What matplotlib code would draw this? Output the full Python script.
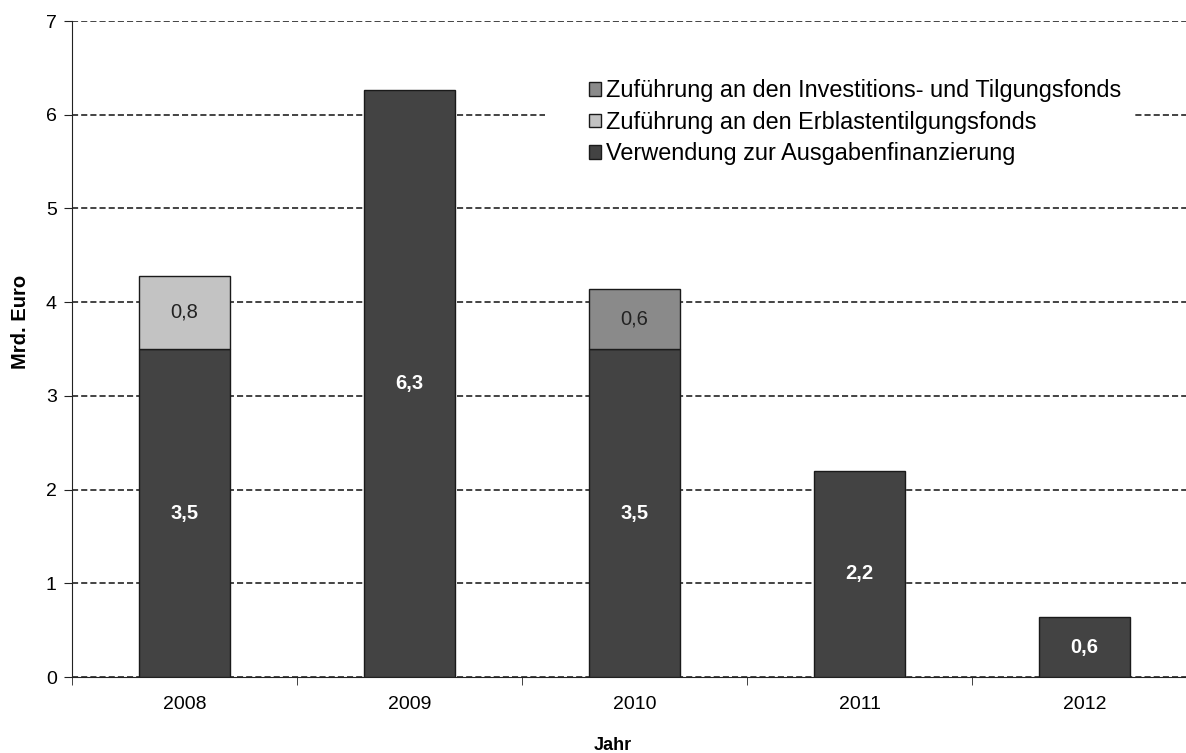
import numpy as np
import matplotlib
matplotlib.use("Agg")
import matplotlib.pyplot as plt
from matplotlib.patches import Patch, Rectangle

plt.rcParams["font.family"] = ["Liberation Sans", "DejaVu Sans"]

years = ["2008", "2009", "2010", "2011", "2012"]
ausgaben = [3.5, 6.26, 3.5, 2.2, 0.64]
erblasten = [0.78, 0, 0, 0, 0]
itf = [0, 0, 0.64, 0, 0]

c_dark = "#434343"
c_light = "#c3c3c3"
c_mid = "#8a8a8a"
edge = "#1a1a1a"


def fmt(v):
    return f"{v:.1f}".replace(".", ",")


fig = plt.figure(figsize=(11.86, 7.53), dpi=100)
# the plot area runs a little past the right edge of the picture, as in the original
ax = fig.add_axes([72 / 1186, 1 - 677 / 753, 1125 / 1186, 656 / 753])

x = np.arange(len(years))
width = 0.405

ax.bar(x, ausgaben, width, color=c_dark, edgecolor=edge, linewidth=1, zorder=3)
erb_b = ax.bar(x, erblasten, width, bottom=ausgaben, color=c_light, edgecolor=edge, linewidth=1, zorder=3)
itf_b = ax.bar(x, itf, width, bottom=ausgaben, color=c_mid, edgecolor=edge, linewidth=1, zorder=3)
for b, v in zip(erb_b, erblasten):
    if v == 0:
        b.set_visible(False)
for b, v in zip(itf_b, itf):
    if v == 0:
        b.set_visible(False)

# value labels
for i in range(len(years)):
    ax.text(x[i], ausgaben[i] / 2, fmt(ausgaben[i]), ha="center", va="center",
            color="white", fontsize=14.5, fontweight="bold", zorder=4)
    if erblasten[i] > 0:
        ax.text(x[i], ausgaben[i] + erblasten[i] / 2, fmt(erblasten[i]), ha="center",
                va="center", color="#222222", fontsize=14.5, zorder=4)
    if itf[i] > 0:
        ax.text(x[i], ausgaben[i] + itf[i] / 2, fmt(itf[i]), ha="center",
                va="center", color="#222222", fontsize=14.5, zorder=4)

ax.set_xlim(-0.5, len(years) - 0.5)
ax.set_ylim(0, 7)
ax.set_yticks(range(0, 8))
ax.yaxis.grid(True, linestyle=(0, (4, 2)), color="#111111", linewidth=1.1, zorder=0)
ax.set_axisbelow(True)

ax.set_xticks(x)
ax.set_xticklabels(years)
ax.set_xticks(np.arange(-0.5, len(years), 1), minor=True)
ax.tick_params(axis="x", which="major", length=0, pad=14, labelsize=14)
ax.tick_params(axis="x", which="minor", length=6, direction="out", color="#222222")
ax.tick_params(axis="y", length=6, direction="out", labelsize=14, color="#222222", pad=5)

for s in ["top", "right"]:
    ax.spines[s].set_visible(False)
ax.spines["left"].set_color("#222222")
ax.spines["bottom"].set_color("#222222")

ax.set_ylabel("Mrd. Euro", fontsize=14.5, fontweight="bold", labelpad=11, y=(677 - 322) / 656)
ax.set_xlabel("Jahr", fontsize=13, fontweight="bold", labelpad=17, x=(613 - 72) / 1125)

handles = [
    Patch(facecolor=c_mid, edgecolor=edge, label="Zuführung an den Investitions- und Tilgungsfonds"),
    Patch(facecolor=c_light, edgecolor=edge, label="Zuführung an den Erblastentilgungsfonds"),
    Patch(facecolor=c_dark, edgecolor=edge, label="Verwendung zur Ausgabenfinanzierung"),
]

# white area behind the legend (interrupts the grid lines)
ax.add_patch(Rectangle(((545 - 72) / 1125, (677 - 172) / 656), 590 / 1125, 100 / 656,
                       transform=ax.transAxes, facecolor="white", edgecolor="none", zorder=2))

ax.legend(handles=handles, loc="upper left", bbox_to_anchor=((580 - 72) / 1125, (677 - 70) / 656),
          frameon=False, fontsize=16.9, handlelength=0.5, handleheight=0.5, handletextpad=0.2,
          labelspacing=0.36, borderaxespad=0)

fig.savefig("out.png", dpi=100)
